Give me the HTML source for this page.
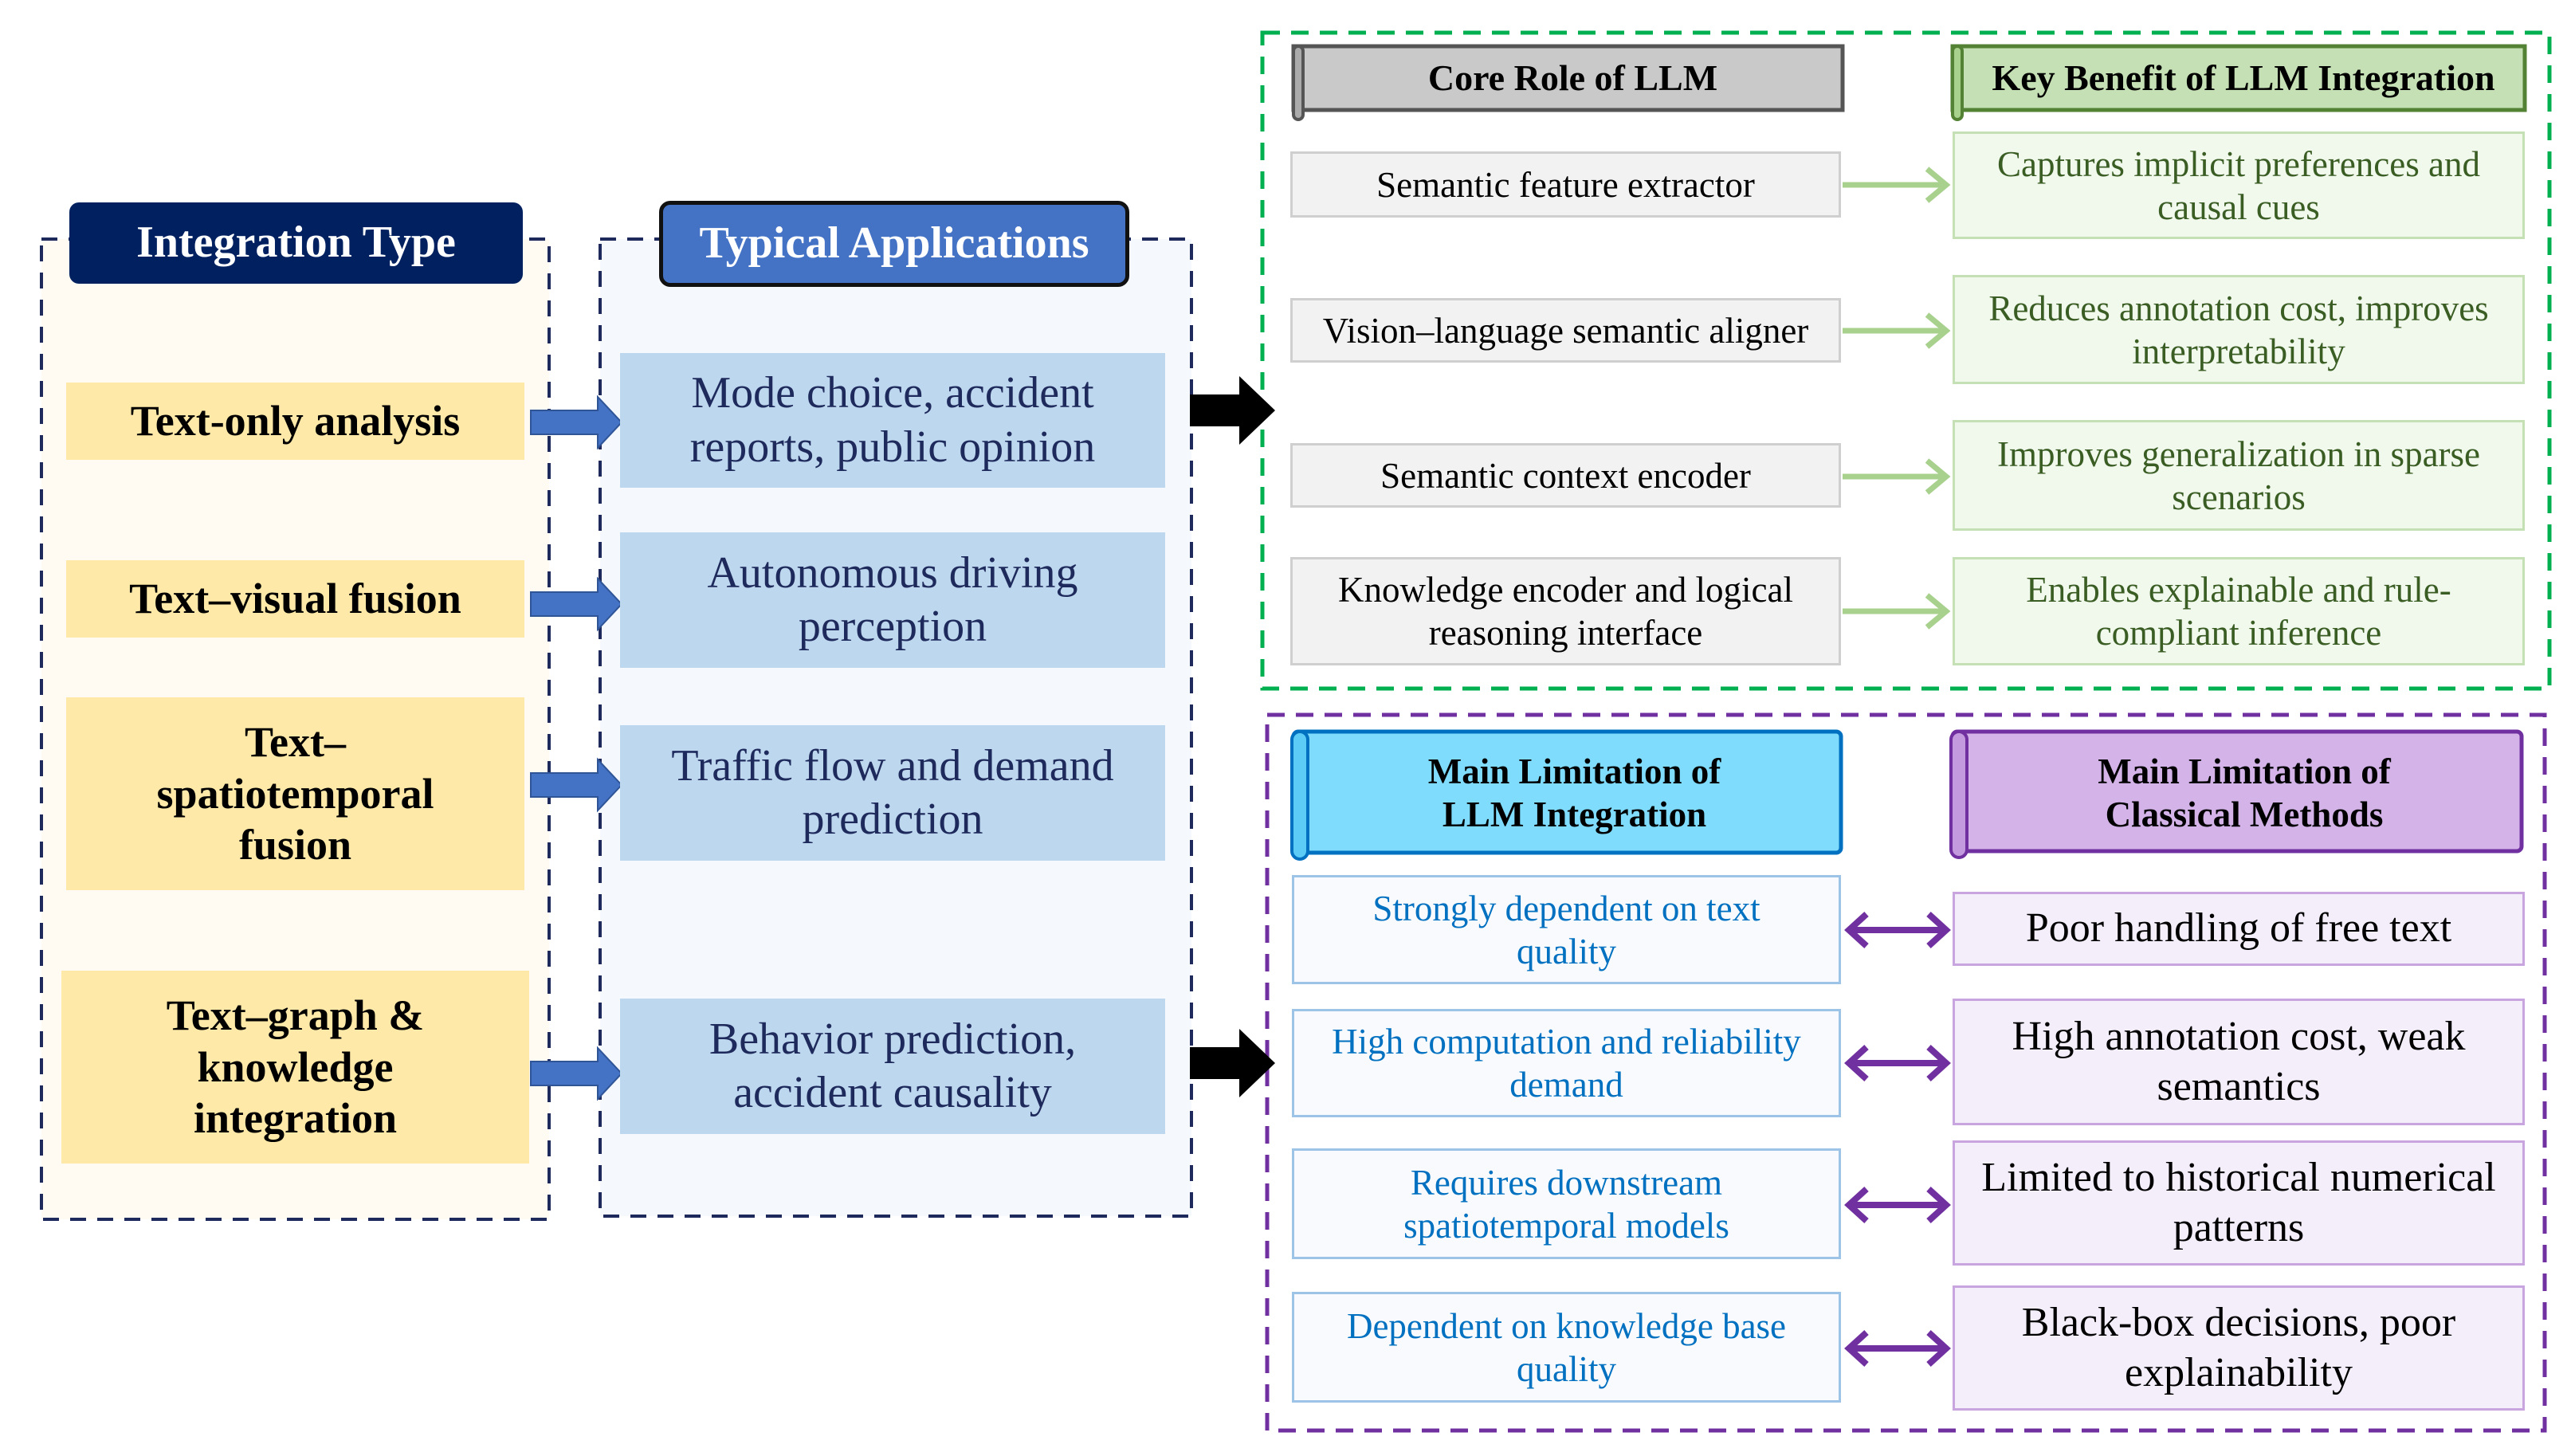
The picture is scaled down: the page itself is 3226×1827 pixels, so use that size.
<!DOCTYPE html>
<html><head><meta charset="utf-8"><style>
body{margin:0;width:3226px;height:1827px;background:#fff;position:relative;overflow:hidden;font-family:"Liberation Serif",serif;}
.b{position:absolute;box-sizing:border-box;display:flex;align-items:center;justify-content:center;text-align:center;line-height:1.2;}
svg{position:absolute;left:0;top:0;}
</style></head><body>
<svg width="3226" height="1827">
<rect x="52" y="300" width="637" height="1230" fill="#fffbf3" stroke="#1f2a5c" stroke-width="4" stroke-dasharray="20,14"/>
<rect x="753" y="300" width="742" height="1226" fill="#f5f8fc" stroke="#1f2a5c" stroke-width="4" stroke-dasharray="20,14"/>
<rect x="1584" y="41" width="1615" height="823" fill="none" stroke="#00b050" stroke-width="5" stroke-dasharray="22,14"/>
<rect x="1590" y="897" width="1603" height="898" fill="none" stroke="#7030a0" stroke-width="5" stroke-dasharray="22,14"/>
<g fill="#4472c4" stroke="#2f5597" stroke-width="2">
<polygon points="666,515 750,515 750,498 780,530 750,562 750,545 666,545"/>
<polygon points="666,743 750,743 750,726 780,758 750,790 750,773 666,773"/>
<polygon points="666,970 750,970 750,953 780,985 750,1017 750,1000 666,1000"/>
<polygon points="666,1332 750,1332 750,1315 780,1347 750,1379 750,1362 666,1362"/>
</g>
<polygon points="1493,495 1555,495 1555,472 1600,515 1555,558 1555,535 1493,535" fill="#000"/>
<polygon points="1493,1314 1555,1314 1555,1291 1600,1334 1555,1377 1555,1354 1493,1354" fill="#000"/>
<g stroke="#a9d18e" stroke-width="7" fill="none">
<line x1="2312" y1="232" x2="2440" y2="232"/><polyline points="2418,212 2442,232 2418,252"/>
<line x1="2312" y1="415" x2="2440" y2="415"/><polyline points="2418,395 2442,415 2418,435"/>
<line x1="2312" y1="598" x2="2440" y2="598"/><polyline points="2418,578 2442,598 2418,618"/>
<line x1="2312" y1="767" x2="2440" y2="767"/><polyline points="2418,747 2442,767 2418,787"/>
</g>
<g stroke="#7030a0" stroke-width="8" fill="none">
<line x1="2322" y1="1167" x2="2440" y2="1167"/><polyline points="2342,1147 2320,1167 2342,1187"/><polyline points="2420,1147 2442,1167 2420,1187"/>
<line x1="2322" y1="1334" x2="2440" y2="1334"/><polyline points="2342,1314 2320,1334 2342,1354"/><polyline points="2420,1314 2442,1334 2420,1354"/>
<line x1="2322" y1="1512" x2="2440" y2="1512"/><polyline points="2342,1492 2320,1512 2342,1532"/><polyline points="2420,1492 2442,1512 2420,1532"/>
<line x1="2322" y1="1692" x2="2440" y2="1692"/><polyline points="2342,1672 2320,1692 2342,1712"/><polyline points="2420,1672 2442,1692 2420,1712"/>
</g>
<!-- scroll headers -->
<rect x="1623" y="58" width="689" height="80" fill="#c9c9c9" stroke="#555" stroke-width="5"/>
<rect x="1623" y="58" width="12" height="92" rx="6" fill="#aaa" stroke="#555" stroke-width="4"/>
<rect x="2450" y="58" width="718" height="80" fill="#c5e0b4" stroke="#548235" stroke-width="5"/>
<rect x="2450" y="58" width="12" height="92" rx="6" fill="#a9d18e" stroke="#548235" stroke-width="4"/>
<rect x="1623" y="918" width="687" height="152" rx="6" fill="#80dcfc" stroke="#0070c0" stroke-width="5"/>
<rect x="1621" y="918" width="20" height="160" rx="10" fill="#5ccbf5" stroke="#0070c0" stroke-width="4"/>
<rect x="2450" y="918" width="714" height="150" rx="6" fill="#d3b3e8" stroke="#7030a0" stroke-width="5"/>
<rect x="2448" y="918" width="20" height="158" rx="10" fill="#c49ade" stroke="#7030a0" stroke-width="4"/>
</svg>
<div class="b" style="left:87px;top:254px;width:569px;height:102px;background:#002060;border-radius:12px;color:#fff;font-weight:bold;font-size:56px;">Integration Type</div>
<div class="b" style="left:827px;top:252px;width:590px;height:108px;background:#4472c4;border:5px solid #111;border-radius:14px;color:#fff;font-weight:bold;font-size:56px;">Typical Applications</div>
<div class="b" style="left:83px;top:480px;width:575px;height:97px;background:#fee9a8;font-weight:bold;font-size:54px;">Text-only analysis</div>
<div class="b" style="left:83px;top:703px;width:575px;height:97px;background:#fee9a8;font-weight:bold;font-size:54px;">Text–visual fusion</div>
<div class="b" style="left:83px;top:875px;width:575px;height:242px;background:#fee9a8;font-weight:bold;font-size:54px;">Text–<br>spatiotemporal<br>fusion</div>
<div class="b" style="left:77px;top:1218px;width:587px;height:242px;background:#fee9a8;font-weight:bold;font-size:54px;">Text–graph &amp;<br>knowledge<br>integration</div>
<div class="b" style="left:778px;top:443px;width:684px;height:169px;background:#bdd7ee;color:#1f2a5c;font-size:56px;">Mode choice, accident<br>reports, public opinion</div>
<div class="b" style="left:778px;top:668px;width:684px;height:170px;background:#bdd7ee;color:#1f2a5c;font-size:56px;">Autonomous driving<br>perception</div>
<div class="b" style="left:778px;top:910px;width:684px;height:170px;background:#bdd7ee;color:#1f2a5c;font-size:56px;">Traffic flow and demand<br>prediction</div>
<div class="b" style="left:778px;top:1253px;width:684px;height:170px;background:#bdd7ee;color:#1f2a5c;font-size:56px;">Behavior prediction,<br>accident causality</div>
<div class="b" style="left:1635px;top:58px;width:677px;height:80px;font-weight:bold;font-size:46px;">Core Role of LLM</div>
<div class="b" style="left:2462px;top:58px;width:706px;height:80px;font-weight:bold;font-size:46px;">Key Benefit of LLM Integration</div>
<div class="b" style="left:1619px;top:190px;width:691px;height:83px;background:#f2f2f2;border:3px solid #cfcfcf;font-size:45px;">Semantic feature extractor</div>
<div class="b" style="left:1619px;top:374px;width:691px;height:81px;background:#f2f2f2;border:3px solid #cfcfcf;font-size:45px;">Vision–language semantic aligner</div>
<div class="b" style="left:1619px;top:556px;width:691px;height:81px;background:#f2f2f2;border:3px solid #cfcfcf;font-size:45px;">Semantic context encoder</div>
<div class="b" style="left:1619px;top:699px;width:691px;height:136px;background:#f2f2f2;border:3px solid #cfcfcf;font-size:45px;">Knowledge encoder and logical<br>reasoning interface</div>
<div class="b" style="left:2450px;top:165px;width:718px;height:135px;background:#f1f8ec;border:3px solid #c5e0b4;color:#3a5d24;font-size:45px;">Captures implicit preferences and<br>causal cues</div>
<div class="b" style="left:2450px;top:345px;width:718px;height:137px;background:#f1f8ec;border:3px solid #c5e0b4;color:#3a5d24;font-size:45px;">Reduces annotation cost, improves<br>interpretability</div>
<div class="b" style="left:2450px;top:527px;width:718px;height:139px;background:#f1f8ec;border:3px solid #c5e0b4;color:#3a5d24;font-size:45px;">Improves generalization in sparse<br>scenarios</div>
<div class="b" style="left:2450px;top:699px;width:718px;height:136px;background:#f1f8ec;border:3px solid #c5e0b4;color:#3a5d24;font-size:45px;">Enables explainable and rule-<br>compliant inference</div>
<div class="b" style="left:1641px;top:925px;width:669px;height:140px;font-weight:bold;font-size:45px;">Main Limitation of<br>LLM Integration</div>
<div class="b" style="left:2468px;top:925px;width:696px;height:140px;font-weight:bold;font-size:45px;">Main Limitation of<br>Classical Methods</div>
<div class="b" style="left:1621px;top:1098px;width:689px;height:137px;background:#f8fafd;border:3px solid #9dc3e6;color:#0070c0;font-size:45px;">Strongly dependent on text<br>quality</div>
<div class="b" style="left:1621px;top:1266px;width:689px;height:136px;background:#f8fafd;border:3px solid #9dc3e6;color:#0070c0;font-size:45px;">High computation and reliability<br>demand</div>
<div class="b" style="left:1621px;top:1441px;width:689px;height:139px;background:#f8fafd;border:3px solid #9dc3e6;color:#0070c0;font-size:45px;">Requires downstream<br>spatiotemporal models</div>
<div class="b" style="left:1621px;top:1621px;width:689px;height:139px;background:#f8fafd;border:3px solid #9dc3e6;color:#0070c0;font-size:45px;">Dependent on knowledge base<br>quality</div>
<div class="b" style="left:2450px;top:1119px;width:718px;height:93px;background:#f4eefa;border:3px solid #c9a5e0;font-size:52px;">Poor handling of free text</div>
<div class="b" style="left:2450px;top:1253px;width:718px;height:159px;background:#f4eefa;border:3px solid #c9a5e0;font-size:52px;">High annotation cost, weak<br>semantics</div>
<div class="b" style="left:2450px;top:1431px;width:718px;height:157px;background:#f4eefa;border:3px solid #c9a5e0;font-size:52px;">Limited to historical numerical<br>patterns</div>
<div class="b" style="left:2450px;top:1613px;width:718px;height:157px;background:#f4eefa;border:3px solid #c9a5e0;font-size:52px;">Black-box decisions, poor<br>explainability</div>
</body></html>
